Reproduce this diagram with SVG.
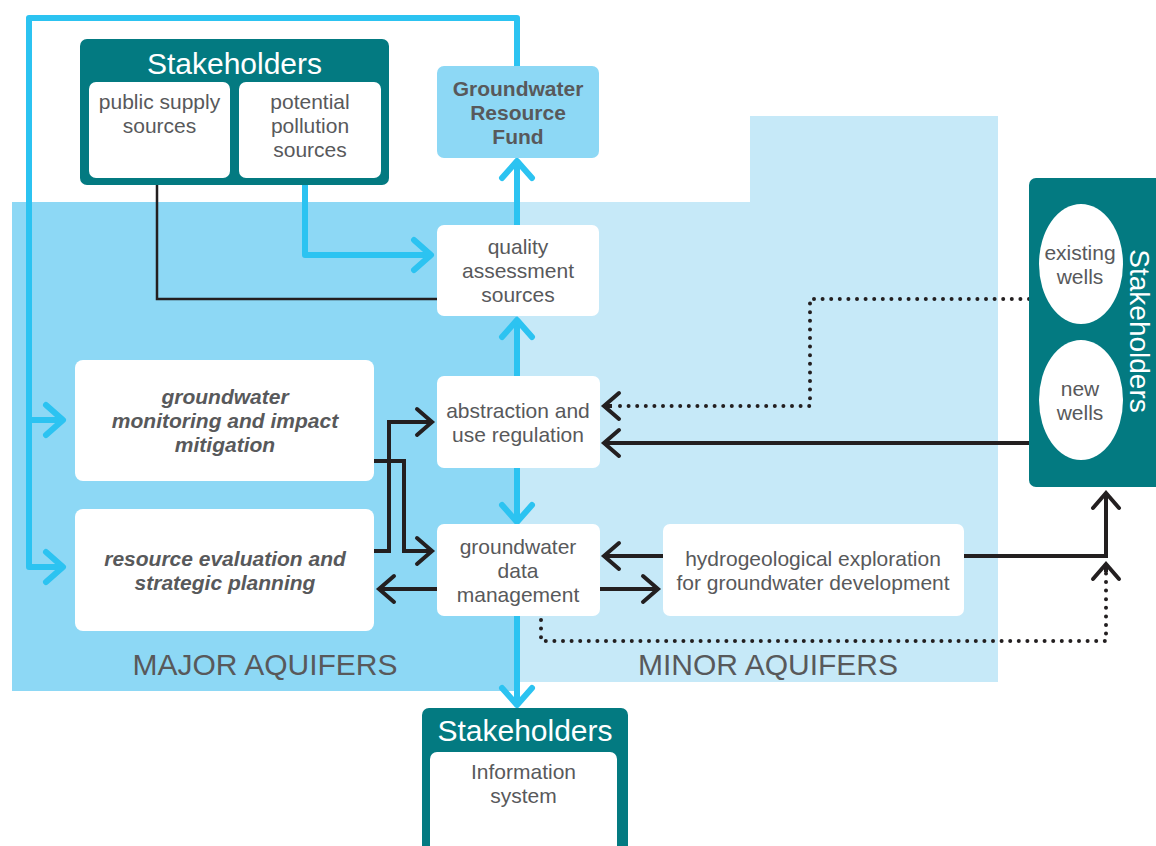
<svg xmlns="http://www.w3.org/2000/svg" width="1156" height="846" viewBox="0 0 1156 846">
<style>
text{font-family:"Liberation Sans",Arial,sans-serif;fill:#58595B;text-anchor:middle}
.t{font-size:21px}
.bi{font-size:21px;font-weight:bold;font-style:italic}
.b{font-size:21px;font-weight:bold}
.h{font-size:30px;fill:#fff}
.aq{font-size:30px}
.teal{fill:#037A81}
.wb{fill:#fff}
.cy{fill:none;stroke:#2CC3F1;stroke-width:6;stroke-linejoin:round}
.bk{fill:none;stroke:#231F20;stroke-width:4;stroke-linejoin:miter}
.thin{fill:none;stroke:#231F20;stroke-width:2.5}
.dot{fill:none;stroke:#231F20;stroke-width:4;stroke-dasharray:0 8.6;stroke-linecap:round}
</style>
<defs>
<marker id="ac" markerUnits="userSpaceOnUse" viewBox="-24 -20 30 40" refX="0" refY="0" markerWidth="30" markerHeight="40" orient="auto" overflow="visible">
<path d="M-17,-15 L0,0 L-17,15" fill="none" stroke="#2CC3F1" stroke-width="6" stroke-linecap="round" stroke-linejoin="round"/>
</marker>
<marker id="ak" markerUnits="userSpaceOnUse" viewBox="-22 -18 28 36" refX="0" refY="0" markerWidth="28" markerHeight="36" orient="auto" overflow="visible">
<path d="M-15,-13 L0,0 L-15,13" fill="none" stroke="#231F20" stroke-width="4" stroke-linecap="round" stroke-linejoin="miter"/>
</marker>
</defs>

<g id="background">
<polygon points="12,202 750,202 750,116 998,116 998,682 12,682" fill="#C6E9F8"/>
<rect x="12" y="202" width="506" height="489" fill="#8DD8F5"/>
<text class="aq" x="265" y="675">MAJOR AQUIFERS</text>
<text class="aq" x="768" y="675">MINOR AQUIFERS</text>
</g>

<g id="connectors">
<path class="cy" d="M517,67 V18 H29 V567 H63" marker-end="url(#ac)"/>
<path class="cy" d="M29,420 H63" marker-end="url(#ac)"/>
<path class="cy" d="M517,225 V161" marker-end="url(#ac)"/>
<path class="cy" d="M305,185 V255 H431" marker-end="url(#ac)"/>
<path class="cy" d="M517,376 V320" marker-end="url(#ac)"/>
<path class="cy" d="M517,468 V522" marker-end="url(#ac)"/>
<path class="cy" d="M517,616 V705" marker-end="url(#ac)"/>
<path class="thin" d="M157,185 V299 H437"/>
<path class="bk" d="M374,461 H404 V551 H432" marker-end="url(#ak)"/>
<path class="bk" d="M374,551 H389 V422 H432" marker-end="url(#ak)"/>
<path class="bk" d="M437,589 H379" marker-end="url(#ak)"/>
<path class="bk" d="M600,589 H658" marker-end="url(#ak)"/>
<path class="bk" d="M663,556 H604" marker-end="url(#ak)"/>
<path class="bk" d="M964,556 H1106 V493" marker-end="url(#ak)"/>
<path class="bk" d="M1029,443 H604" marker-end="url(#ak)"/>
<path class="dot" d="M1029,299 H810 V406 H612"/>
<path class="bk" d="M612,406 H604" stroke-width="0" marker-end="url(#ak)"/>
<path class="dot" d="M541,620 V641 H1106 V572"/>
<path class="bk" d="M1106,572 V564" stroke-width="0" marker-end="url(#ak)"/>
</g>

<g id="stakeholders-top">
<rect class="teal" x="80" y="39" width="309" height="146" rx="7"/>
<text class="h" x="234.5" y="74">Stakeholders</text>
<rect class="wb" x="89" y="82" width="141" height="96" rx="7"/>
<text class="t" x="159.5" y="109">public supply</text>
<text class="t" x="159.5" y="133">sources</text>
<rect class="wb" x="239" y="82" width="142" height="96" rx="7"/>
<text class="t" x="310" y="109">potential</text>
<text class="t" x="310" y="133">pollution</text>
<text class="t" x="310" y="157">sources</text>
</g>

<g id="fund">
<rect x="437" y="66" width="162" height="92" rx="7" fill="#8DD8F5"/>
<text class="b" x="518" y="96">Groundwater</text>
<text class="b" x="518" y="120">Resource</text>
<text class="b" x="518" y="144">Fund</text>
</g>

<g id="quality">
<rect class="wb" x="437" y="225" width="162" height="91" rx="7"/>
<text class="t" x="518" y="254">quality</text>
<text class="t" x="518" y="278">assessment</text>
<text class="t" x="518" y="302">sources</text>
</g>

<g id="abstraction">
<rect class="wb" x="437" y="376" width="163" height="92" rx="7"/>
<text class="t" x="518" y="417.5">abstraction and</text>
<text class="t" x="518" y="441.5">use regulation</text>
</g>

<g id="datamgmt">
<rect class="wb" x="437" y="524" width="163" height="92" rx="7"/>
<text class="t" x="518" y="554">groundwater</text>
<text class="t" x="518" y="578">data</text>
<text class="t" x="518" y="602">management</text>
</g>

<g id="monitoring">
<rect class="wb" x="75" y="360" width="299" height="121" rx="8"/>
<text class="bi" x="225" y="404">groundwater</text>
<text class="bi" x="225" y="428">monitoring and impact</text>
<text class="bi" x="225" y="452">mitigation</text>
</g>

<g id="evaluation">
<rect class="wb" x="75" y="509" width="299" height="122" rx="8"/>
<text class="bi" x="225" y="566">resource evaluation and</text>
<text class="bi" x="225" y="590">strategic planning</text>
</g>

<g id="exploration">
<rect class="wb" x="663" y="524" width="301" height="92" rx="7"/>
<text class="t" x="813" y="566">hydrogeological exploration</text>
<text class="t" x="813" y="590">for groundwater development</text>
</g>

<g id="stakeholders-right">
<rect class="teal" x="1029" y="178" width="140" height="309" rx="7"/>
<ellipse class="wb" cx="1081" cy="264" rx="42" ry="60"/>
<text class="t" x="1080" y="260">existing</text>
<text class="t" x="1080" y="284">wells</text>
<ellipse class="wb" cx="1081" cy="400" rx="42" ry="60"/>
<text class="t" x="1080" y="395.5">new</text>
<text class="t" x="1080" y="419.5">wells</text>
<text class="h" style="font-size:28px" transform="translate(1130,331) rotate(90)" x="0" y="0">Stakeholders</text>
</g>

<g id="stakeholders-bottom">
<rect class="teal" x="422" y="708" width="206" height="160" rx="7"/>
<text class="h" x="525" y="741">Stakeholders</text>
<rect class="wb" x="430" y="752" width="187" height="110" rx="7"/>
<text class="t" x="523.5" y="779">Information</text>
<text class="t" x="523.5" y="803">system</text>
</g>
</svg>
